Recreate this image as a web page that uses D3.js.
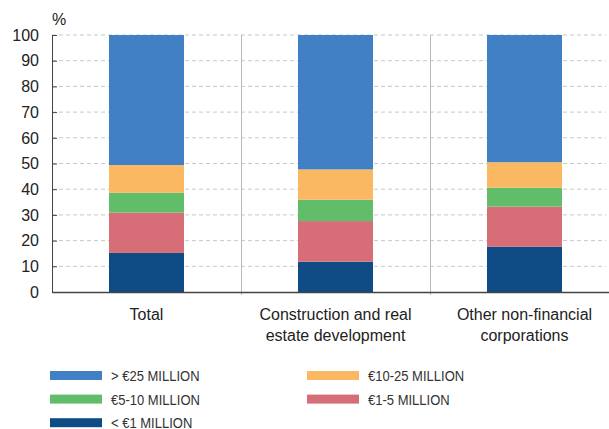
<!DOCTYPE html>
<html>
<head>
<meta charset="utf-8">
<script src="https://cdn.jsdelivr.net/npm/d3@7"></script>
<style>
body { margin: 0; background: #fff; }
text { font-family: "Liberation Sans", Arial, sans-serif; fill: #222; }
.legend text { fill: #333; }
</style>
</head>
<body>
<div id="chart"></div>
<script>
var width = 609,
	height = 429;

// Data
var categories = ["Total", "Construction and real estate development", "Other non-financial corporations"];
var catLines = [["Total"], ["Construction and real", "estate development"], ["Other non-financial", "corporations"]];
var seriesNames = ["< €1 MILLION", "€1-5 MILLION", "€5-10 MILLION", "€10-25 MILLION", "> €25 MILLION"];
var lt1 = [15.2, 11.8, 17.6];
var m1to5 = [15.7, 15.8, 15.6];
var m5to10 = [7.7, 8.3, 7.4];
var m10to25 = [10.8, 11.8, 9.9];
var gt25 = [50.6, 52.3, 49.5];
var yTicks = [0, 10, 20, 30, 40, 50, 60, 70, 80, 90, 100];
var colors = ["#0f4c85", "#d66d77", "#62bd6a", "#fbb862", "#4180c4"];

var rows = categories.map(function(c, i){
	return {cat: c, s0: lt1[i], s1: m1to5[i], s2: m5to10[i], s3: m10to25[i], s4: gt25[i]};
});

var svg = d3.select("#chart")
	.append("svg")
	.attr("width", width)
	.attr("height", height);

var margin = {left: 52, top: 35, bottom: 292, right: 619};

var x = d3.scaleBand()
	.domain(categories)
	.range([margin.left, margin.right])
	.paddingInner(0)
	.paddingOuter(0);

var y = d3.scaleLinear()
	.domain([0, 100])
	.range([margin.bottom, margin.top]);

// grid
svg.append("g")
	.selectAll("line")
	.data(yTicks.filter(function(d){ return d > 0; }))
	.enter()
	.append("line")
	.attr("x1", margin.left)
	.attr("x2", 606)
	.attr("y1", function(d){ return y(d); })
	.attr("y2", function(d){ return y(d); })
	.attr("stroke", "#c8c8c8")
	.attr("stroke-width", 1)
	.attr("stroke-dasharray", "4,3");

// category separators
svg.append("g")
	.selectAll("line")
	.data(categories.slice(1))
	.enter()
	.append("line")
	.attr("x1", function(d){ return x(d) + 0.5; })
	.attr("x2", function(d){ return x(d) + 0.5; })
	.attr("y1", margin.top)
	.attr("y2", margin.bottom + 3)
	.attr("stroke", "#b8b8b8")
	.attr("stroke-width", 1);

// stacked bars
var stack = d3.stack().keys(["s0", "s1", "s2", "s3", "s4"]);
var series = stack(rows);
var barW = 75;

svg.append("g")
	.selectAll("g")
	.data(series)
	.enter()
	.append("g")
	.attr("fill", function(d, i){ return colors[i]; })
	.selectAll("rect")
	.data(function(d){ return d; })
	.enter()
	.append("rect")
	.attr("x", function(d){ return x(d.data.cat) + x.bandwidth() / 2 - barW / 2; })
	.attr("width", barW)
	.attr("y", function(d){ return y(d[1]); })
	.attr("height", function(d){ return y(d[0]) - y(d[1]); });

// y axis
var yAxis = svg.append("g")
	.attr("transform", "translate(" + margin.left + ",0)")
	.call(d3.axisRight(y).tickValues(yTicks).tickSize(5).tickFormat(""));
yAxis.select(".domain").attr("stroke", "#444");
yAxis.selectAll(".tick line").attr("stroke", "#444");

svg.append("g")
	.selectAll("text")
	.data(yTicks)
	.enter()
	.append("text")
	.attr("x", 39)
	.attr("y", function(d){ return y(d); })
	.attr("dy", "0.36em")
	.attr("text-anchor", "end")
	.attr("font-size", 16)
	.text(function(d){ return d; });

svg.append("text")
	.attr("x", 52)
	.attr("y", 25)
	.attr("font-size", 16)
	.attr("fill", "#555")
	.text("%");

// x axis line
svg.append("line")
	.attr("x1", margin.left)
	.attr("x2", width)
	.attr("y1", margin.bottom + 0.5)
	.attr("y2", margin.bottom + 0.5)
	.attr("stroke", "#444")
	.attr("stroke-width", 1.5);

// category labels
categories.forEach(function(c, i){
	var t = svg.append("text")
		.attr("text-anchor", "middle")
		.attr("font-size", 16);
	catLines[i].forEach(function(line, j){
		t.append("tspan")
			.attr("x", x(c) + x.bandwidth() / 2)
			.attr("y", 320 + j * 21)
			.text(line);
	});
});

// legend
var legendOrder = [4, 3, 2, 1, 0];
var legend = svg.append("g").attr("class", "legend");
legendOrder.forEach(function(s, k){
	var col = k % 2, row = Math.floor(k / 2);
	var lx = col === 0 ? 50 : 307,
		ly = 375.5 + row * 23.6;
	legend.append("rect")
		.attr("x", lx)
		.attr("y", ly - 4.5)
		.attr("width", 52)
		.attr("height", 9)
		.attr("fill", colors[s]);
	legend.append("text")
		.attr("transform", "translate(" + (lx + 61) + "," + ly + ") scale(0.84,1)")
		.attr("dy", "0.37em")
		.attr("font-size", 15.5)
		.text(seriesNames[s]);
});
</script>
</body>
</html>
